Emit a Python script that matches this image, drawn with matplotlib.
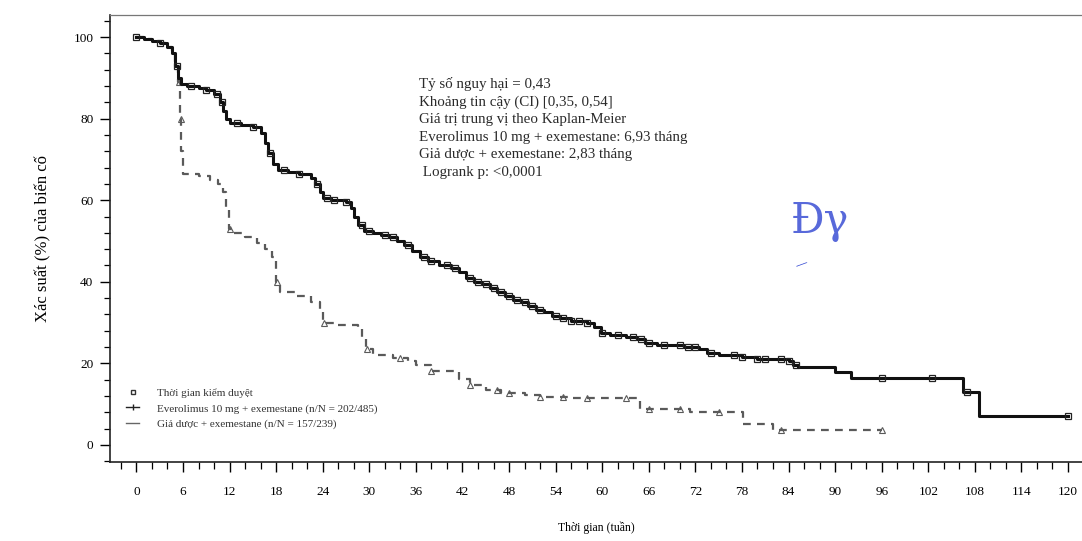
import numpy as np
import matplotlib
matplotlib.use('Agg')
import matplotlib.pyplot as plt
from matplotlib.lines import Line2D
from matplotlib.ticker import MultipleLocator

plt.rcParams['font.family'] = ['Liberation Serif', 'DejaVu Serif']

# Kaplan-Meier curves: time in weeks, % without event
evero_t = [0, 1, 2, 3, 4, 4.6, 5.0, 5.4, 5.8, 6.5, 8, 9, 10, 10.7, 11.2, 11.6, 12,
           13.5, 15, 16, 16.6, 17, 17.6, 18.2, 19.5, 21, 22.5, 23, 23.6, 24, 25,
           27, 27.6, 28, 28.6, 29.3, 30.5, 31.5, 32.5, 33.5, 34.5, 35.5, 36.5,
           37.5, 39, 40.5, 41.5, 42.5, 43.5, 44.5, 45.5, 46.5, 47.5, 48.5, 49.5,
           50.5, 51.5, 52.5, 53.5, 54.5, 56, 58, 59, 59.8, 61, 63, 64.5, 65.5,
           67, 70.5, 72.5, 73.5, 75, 78, 80, 84, 84.6, 85.2, 90, 92, 106.5,
           108.5, 120]
evero_s = [100, 99.5, 99, 98.5, 97.5, 96, 93, 90, 88.5, 88, 87.5, 87, 86, 84, 82,
           80, 79, 78.5, 78, 76.5, 74, 71.5, 69, 67.5, 67, 66.5, 65.5, 64, 62,
           60.5, 60, 59.5, 58, 56, 54, 52.5, 52, 51.5, 51, 50, 49, 47.5, 46, 45,
           44, 43.5, 42.5, 41, 40, 39.5, 38.5, 37.5, 36.5, 35.5, 35, 34, 33,
           32.5, 31.5, 31, 30.5, 30, 29, 27.5, 27, 26.5, 26, 25, 24.5, 24, 23.5,
           22.5, 22, 21.5, 21, 20.5, 19.5, 19, 17.8, 16.3, 13, 7.2, 7.2]
evero_cens = [0, 3, 5.2, 7, 9, 10.4, 11, 13, 15, 17.2, 19, 21, 23.2, 24.5, 25.5,
              27, 29, 30, 32, 33, 35, 37, 38, 40, 41, 43, 44, 45, 46, 47, 48, 49,
              50, 51, 52, 54, 55, 56, 57, 58, 60, 62, 64, 65, 66, 68, 70, 71, 72,
              74, 77, 78, 80, 81, 83, 84, 85, 96, 102.5, 107, 120]

placebo_t = [0, 1, 2, 3, 4, 4.6, 5.0, 5.4, 5.6, 5.8, 6.0, 8, 9.5, 10.5, 11.2,
             11.6, 11.9, 12.5, 14, 15.5, 16.5, 17.5, 18, 18.5, 20.5, 22.5, 23.6,
             24, 26, 28.5, 29, 29.6, 30.5, 33, 35, 36, 38, 41.5, 43, 45, 47, 50,
             52, 56, 64.9, 71.3, 78.1, 82, 96]
placebo_s = [100, 99.5, 99, 98.5, 97.5, 96, 93, 89, 80, 72, 66.5, 66, 65, 64, 62,
             58, 53, 52, 51, 49.5, 48, 46, 40, 37.5, 36.5, 35, 33, 30, 29.5, 28.5,
             26, 23.5, 22, 21.3, 20.5, 19.5, 18, 16.2, 14.8, 13.5, 12.8, 12.3,
             11.8, 11.5, 8.8, 8, 5.2, 3.7, 3.7]
placebo_cens = [5.5, 5.7, 12, 18.1, 24.2, 29.7, 34, 38, 43, 46.5, 48, 52, 55, 58,
                63, 66, 70, 75, 83, 96]

x_ticks = list(range(0, 121, 6))
y_ticks = [0, 20, 40, 60, 80, 100]

stats_lines = [
    'Tỷ số nguy hại = 0,43',
    'Khoảng tin cậy (CI) [0,35, 0,54]',
    'Giá trị trung vị theo Kaplan-Meier',
    'Everolimus 10 mg + exemestane: 6,93 tháng',
    'Giả dược + exemestane: 2,83 tháng',
    ' Logrank p: <0,0001',
]
legend_labels = [
    'Thời gian kiểm duyệt',
    'Everolimus 10 mg + exemestane (n/N = 202/485)',
    'Giả dược + exemestane (n/N = 157/239)',
]


def surv_at(times, surv, t):
    # value of the step function at the censoring times
    idx = np.searchsorted(times, t, side='right') - 1
    return np.asarray(surv)[idx]


fig = plt.figure(figsize=(10.82, 5.41), dpi=100)
ax = fig.add_axes([0.1017, 0.146, 0.8983, 0.826])

ax.step(placebo_t, placebo_s, where='post', color='#5a5a5a', lw=1.6,
        linestyle=(0, (3.5, 2.8)))
ax.plot(placebo_cens, surv_at(placebo_t, placebo_s, placebo_cens), '^',
        mfc='none', mec='#5a5a5a', ms=4, mew=0.8)

ax.step(evero_t, evero_s, where='post', color='#111111', lw=2.2)
ax.plot(evero_cens, surv_at(evero_t, evero_s, evero_cens), 's',
        mfc='none', mec='#222222', ms=5, mew=0.9)

ax.set_xlim(-3.4, 121.8)
ax.set_ylim(-4.2, 105.4)
ax.set_xticks(x_ticks)
ax.set_yticks(y_ticks)
ax.xaxis.set_minor_locator(MultipleLocator(2))
ax.yaxis.set_minor_locator(MultipleLocator(4))
ax.tick_params(axis='x', which='major', direction='out', length=7, width=1,
               pad=10, labelsize=9.5)
ax.tick_params(axis='x', which='minor', direction='out', length=5, width=0.9)
ax.tick_params(axis='y', which='major', direction='out', length=7, width=1,
               pad=5, labelsize=9.5)
ax.tick_params(axis='y', which='minor', direction='out', length=4, width=0.9)

ax.spines['right'].set_visible(False)
ax.spines['top'].set_color('#777777')
ax.spines['top'].set_linewidth(0.9)
for side in ['left', 'bottom']:
    ax.spines[side].set_linewidth(1.2)
    ax.spines[side].set_color('#222222')

ax.set_xlabel('Thời gian (tuần)', fontsize=8.5, labelpad=17)
ax.set_ylabel('Xác suất (%) của biến cố', fontsize=12, labelpad=16)

ax.text(0.318, 0.862, '\n'.join(stats_lines), transform=ax.transAxes,
        fontsize=10.8, va='top', ha='left', linespacing=1.45, color='#2a2a2a')

handles = [
    Line2D([], [], ls='none', marker='s', mfc='none', mec='#333333', ms=3.5),
    Line2D([], [], color='#222222', lw=1, marker='|', ms=4),
    Line2D([], [], color='#666666', lw=1),
]
ax.legend(handles, legend_labels, loc='upper left', bbox_to_anchor=(0.012, 0.175),
          frameon=False, fontsize=8, handlelength=1.2, labelspacing=0.5,
          handletextpad=1.6, borderaxespad=0, labelcolor='#333333')

# initials written on the sheet in blue ink
fig.text(0.731, 0.57, 'Ðγ', color='#3b4fd4', fontsize=30, family='DejaVu Serif',
         alpha=0.85)
fig.text(0.733, 0.5, '‒', color='#3b4fd4', fontsize=16, rotation=20)

fig.savefig('out.png', dpi=100)
